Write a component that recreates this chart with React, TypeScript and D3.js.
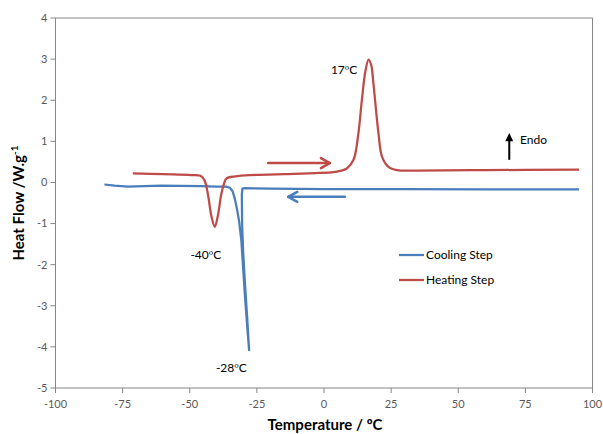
import React from "react";
import * as d3 from "d3";

const coolingX = [-81.8, -78, -73, -67, -60.6, -45.7, -40, -36.5, -35, -34, -33.2, -32.4, -31.6, -30.8, -30.1, -29.4, -28.6, -27.9, -28.6, -29.4, -30.1, -30.5, -30.6, -30.4, -29.5, -20, 0, 30, 60, 95];
const coolingY = [-0.05, -0.08, -0.1, -0.09, -0.08, -0.09, -0.1, -0.1, -0.13, -0.22, -0.4, -0.65, -0.95, -1.4, -2.1, -2.8, -3.5, -4.08, -3.3, -2.5, -1.7, -1.0, -0.3, -0.15, -0.14, -0.15, -0.16, -0.16, -0.17, -0.17];
const heatingX = [-71.2, -60, -49.4, -46, -44.5, -43.2, -42, -40.7, -39.5, -38.3, -37.2, -36.3, -33, -27.7, -15, 3.5, 6, 8.5, 11, 12.8, 14.1, 15.4, 16.6, 17.6, 18.4, 20.3, 21.6, 24, 27.2, 35, 60, 95];
const heatingY = [0.22, 0.2, 0.18, 0.16, 0.05, -0.3, -0.8, -1.08, -0.8, -0.3, -0.02, 0.1, 0.15, 0.18, 0.2, 0.25, 0.28, 0.34, 0.55, 1.19, 2.0, 2.7, 2.99, 2.85, 2.41, 1.19, 0.63, 0.38, 0.3, 0.29, 0.3, 0.31];
const xTicks = [-100, -75, -50, -25, 0, 25, 50, 75, 100];
const yTicks = [-5, -4, -3, -2, -1, 0, 1, 2, 3, 4];
const seriesNames = ["Cooling Step", "Heating Step"];
const peakLabels = [
  { num: "17", x: 7.5, y: 2.65 },
  { num: "-40", x: -44, y: -1.85 },
  { num: "-28", x: -34.5, y: -4.6 },
];

const BLUE = "#4a7ebb";
const RED = "#be4b48";
const FONT = "Lato, 'Open Sans', sans-serif";
const ORD = "'Open Sans', 'Noto Sans', sans-serif";

export default function App() {
  const x = d3.scaleLinear().domain([-100, 100]).range([55.5, 592.5]);
  const y = d3.scaleLinear().domain([-5, 4]).range([388, 18]);
  const lineL = d3
    .line<[number, number]>()
    .x((d) => x(d[0]))
    .y((d) => y(d[1]));
  const lineC = d3
    .line<[number, number]>()
    .x((d) => x(d[0]))
    .y((d) => y(d[1]))
    .curve(d3.curveCatmullRom.alpha(0.5));
  const cool: [number, number][] = coolingX.map((v, i) => [v, coolingY[i]]);
  const heat: [number, number][] = heatingX.map((v, i) => [v, heatingY[i]]);

  const arrowHead = (tx: number, ty: number, dir: number, color: string) => (
    <path
      d={`M${tx - dir * 9},${ty - 5} L${tx},${ty} L${tx - dir * 9},${ty + 5}`}
      fill="none"
      stroke={color}
      strokeWidth={2.5}
      strokeLinecap="round"
      strokeLinejoin="round"
    />
  );

  return (
    <svg width={603} height={434} style={{ position: "absolute", left: 0, top: 0, fontFamily: FONT }}>
      <rect x={0} y={0} width={603} height={434} fill="#fff" />
      <line x1={x(-100)} x2={x(100)} y1={y(4)} y2={y(4)} stroke="#868686" strokeWidth={1} />
      <line x1={x(100)} x2={x(100)} y1={y(4)} y2={y(-5)} stroke="#868686" strokeWidth={1} />
      <line x1={x(-100)} x2={x(-100)} y1={y(4)} y2={y(-5)} stroke="#868686" strokeWidth={1} />
      <line x1={x(-100)} x2={x(100)} y1={y(-5)} y2={y(-5)} stroke="#868686" strokeWidth={1} />
      {yTicks.map((t) => (
        <g key={"y" + t}>
          <line x1={x(-100) - 5} x2={x(-100)} y1={y(t)} y2={y(t)} stroke="#868686" />
          <text x={x(-100) - 8} y={y(t)} dy="0.35em" textAnchor="end" fontSize={11} fill="#595959">
            {t}
          </text>
        </g>
      ))}
      {xTicks.map((t) => (
        <g key={"x" + t}>
          <line x1={x(t)} x2={x(t)} y1={y(-5)} y2={y(-5) + 5} stroke="#868686" />
          <text x={x(t)} y={y(-5) + 20} textAnchor="middle" fontSize={11} fill="#595959">
            {t}
          </text>
        </g>
      ))}
      <text x={325} y={430} textAnchor="middle" fontSize={15} fontWeight="bold" fill="#000">
        Temperature / <tspan fontFamily={ORD}>º</tspan>C
      </text>
      <text transform="translate(24,203) rotate(-90)" textAnchor="middle" fontSize={15} fontWeight="bold" fill="#000">
        Heat Flow /W.g<tspan dy={-6} fontSize={10}>-1</tspan>
      </text>

      <path d={lineL(cool) || ""} fill="none" stroke={BLUE} strokeWidth={2.25} strokeLinejoin="round" />
      <path d={lineC(heat) || ""} fill="none" stroke={RED} strokeWidth={2.25} strokeLinejoin="round" />

      {peakLabels.map((p) => (
        <text key={p.num} x={x(p.x)} y={y(p.y)} textAnchor="middle" fontSize={12} fill="#000">
          {p.num}
          <tspan fontFamily={ORD}>º</tspan>C
        </text>
      ))}
      <line x1={x(-20.8)} x2={x(2.2)} y1={y(0.47)} y2={y(0.47)} stroke={RED} strokeWidth={2.5} strokeLinecap="round" />
      {arrowHead(x(2.2), y(0.47), 1, RED)}
      <line x1={x(-13.3)} x2={x(7.8)} y1={y(-0.35)} y2={y(-0.35)} stroke={BLUE} strokeWidth={2.5} strokeLinecap="round" />
      {arrowHead(x(-13.3), y(-0.35), -1, BLUE)}
      <line x1={x(69)} x2={x(69)} y1={y(0.55)} y2={y(1.12)} stroke="#000" strokeWidth={2} />
      <path d={`M${x(69) - 4},${y(1.0)} L${x(69)},${y(1.2)} L${x(69) + 4},${y(1.0)} Z`} fill="#000" />
      <text x={x(73)} y={y(0.93)} fontSize={12} fill="#000">
        Endo
      </text>

      {seriesNames.map((n, i) => (
        <g key={n} transform={`translate(399,${255 + i * 25})`}>
          <line x1={0} x2={25} y1={0} y2={0} stroke={i === 0 ? BLUE : RED} strokeWidth={2.25} />
          <text x={27} y={0} dy="0.35em" fontSize={12} fill="#000">
            {n}
          </text>
        </g>
      ))}
    </svg>
  );
}
